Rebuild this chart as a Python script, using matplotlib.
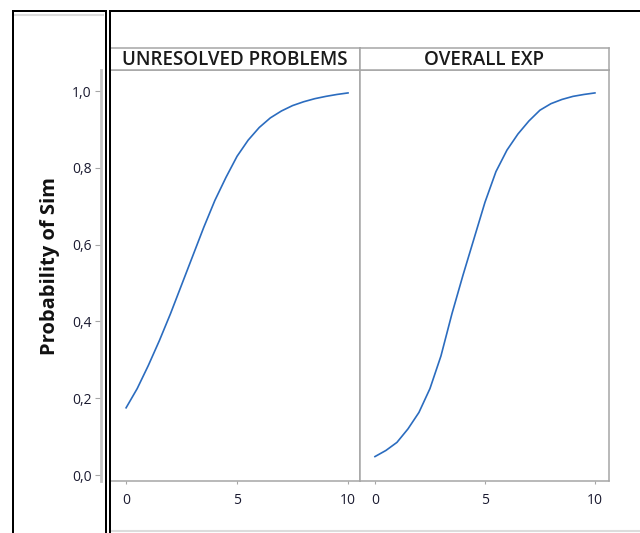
import matplotlib
matplotlib.use("Agg")
import matplotlib.pyplot as plt
from matplotlib.lines import Line2D

# ---- data ----
panels = ["UNRESOLVED PROBLEMS", "OVERALL EXP"]
x_vals = [0, 0.5, 1, 1.5, 2, 2.5, 3, 3.5, 4, 4.5, 5, 5.5, 6, 6.5, 7, 7.5, 8, 8.5, 9, 9.5, 10]
prob_unresolved = [0.175, 0.225, 0.285, 0.350, 0.420, 0.495, 0.570, 0.645, 0.715, 0.775, 0.830,
                   0.872, 0.905, 0.930, 0.948, 0.962, 0.972, 0.980, 0.986, 0.991, 0.995]
prob_overall = [0.048, 0.064, 0.085, 0.120, 0.163, 0.225, 0.310, 0.420, 0.520, 0.615, 0.710,
                0.790, 0.846, 0.888, 0.922, 0.950, 0.967, 0.978, 0.986, 0.991, 0.995]
x_ticks = [0, 5, 10]
y_ticks = [0.0, 0.2, 0.4, 0.6, 0.8, 1.0]
y_tick_labels = ["0,0", "0,2", "0,4", "0,6", "0,8", "1,0"]
y_label = "Probability of Sim"

W, H = 640, 533
plt.rcParams['font.family'] = ['Open Sans', 'DejaVu Sans']
fig = plt.figure(figsize=(W / 100, H / 100), dpi=100)
fig.patch.set_facecolor("white")

def fx(px):
    return px / W

def fy(py):
    return 1 - py / H

GRAY = "#a6a6a6"
BLUE = "#2b6cbf"
TXT = "#1a1a30"

top_px, bot_px = 70, 481
panel_px = [(111, 360), (360, 609)]
xlims = [(-0.68, 10.54), (-0.68, 10.64)]
series = [prob_unresolved, prob_overall]

for i, ((l, r), title, yv, xl) in enumerate(zip(panel_px, panels, series, xlims)):
    ax = fig.add_axes([fx(l), fy(bot_px), fx(r - l), (bot_px - top_px) / H])
    ax.plot(x_vals, yv, color=BLUE, lw=1.2)
    ax.set_xlim(*xl)
    ax.set_ylim(-0.0156, 1.0547)
    ax.set_xticks(x_ticks)
    ax.set_xticklabels([str(t) for t in x_ticks])
    for s in ax.spines.values():
        s.set_color(GRAY)
        s.set_linewidth(1.1)
    ax.tick_params(axis="x", direction="out", length=2.5, width=0.8, color=GRAY,
                   labelsize=10, labelcolor=TXT, pad=6)
    if i == 0:
        ax.spines["left"].set_position(("outward", 7))
        ax.spines["left"].set_color("#c4c4c4")
        ax.spines["left"].set_linewidth(2)
        ax.set_yticks(y_ticks)
        ax.set_yticklabels(y_tick_labels)
        ax.tick_params(axis="y", direction="out", length=4, width=0.8, color=GRAY,
                       labelsize=10, labelcolor=TXT, pad=3)
    else:
        ax.set_yticks([])

    # header strip
    hl = 110 if i == 0 else l
    hx = fig.add_axes([fx(hl), fy(top_px), fx(r - hl), 22 / H])
    hx.set_xticks([])
    hx.set_yticks([])
    for s in hx.spines.values():
        s.set_color(GRAY)
        s.set_linewidth(1.1)
    hx.text(0.5, 0.45, title, ha="center", va="center", fontsize=13.5,
            fontweight="semibold", color="#1a1a1a", transform=hx.transAxes)

fig.text(fx(50), fy(266), y_label, rotation=90, ha="center", va="center",
         fontsize=14.5, fontweight="bold", color="#111111")

# screenshot frame lines
def pline(x0, y0, x1, y1, color="black", lw=1.44):
    fig.add_artist(Line2D([fx(x0), fx(x1)], [fy(y0), fy(y1)], color=color, lw=lw,
                          transform=fig.transFigure, solid_capstyle="butt"))

pline(14, 15, 104, 15, color="#dcdcdc", lw=1.5)
pline(111, 530.5, 640, 530.5, color="#dcdcdc", lw=1.5)
pline(12.5, 10, 12.5, 533)
pline(12, 10.5, 106.5, 10.5)
pline(108.5, 10.5, 640, 10.5)
pline(105.5, 10, 105.5, 533)
pline(109.5, 10, 109.5, 533)

fig.savefig("out.png", dpi=100, facecolor="white")
